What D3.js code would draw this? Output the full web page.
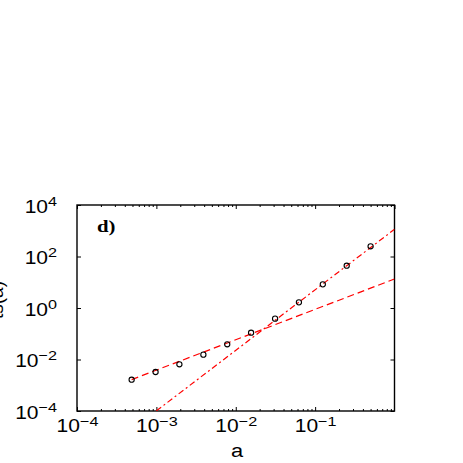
<!DOCTYPE html>
<html>
<head>
<meta charset="utf-8">
<script src="https://cdn.jsdelivr.net/npm/d3@7"></script>
<style>
  body { margin: 0; background: #fff; }
  text { font-family: "Liberation Sans", Arial, sans-serif; fill: #000; }
</style>
</head>
<body>
<div id="chart"></div>
<script>
// measured points (a = 2^-11 ... 2^-1)
var aValues = [0.000488, 0.000977, 0.00195, 0.00391, 0.00781, 0.0156, 0.0313, 0.0625, 0.125, 0.25, 0.5];
var tValues = [0.00164, 0.00327, 0.0065, 0.0154, 0.039, 0.11, 0.385, 1.66, 8.3, 44, 249];

// power-law fits: [prefactor, exponent, xStart, xEnd]
var fitDashed = [13.4, 1.18, 0.000488, 1];
var fitDashDot = [1138, 2.35, 0.001, 1];

var xTickExps = [-4, -3, -2, -1];
var yTickExps = [-4, -2, 0, 2, 4];

var W = 463, H = 463;
var margin = {left: 77, right: 68.5, top: 205, bottom: 52};
var pw = W - margin.left - margin.right,
    ph = H - margin.top - margin.bottom;

var svg = d3.select("#chart").append("svg")
  .attr("width", W).attr("height", H);

var x = d3.scaleLog().domain([1e-4, 1]).range([0, pw]);
var y = d3.scaleLog().domain([1e-4, 1e4]).range([ph, 0]);

var g = svg.append("g").attr("transform", "translate(" + margin.left + "," + margin.top + ")");

var clip = svg.append("clipPath").attr("id", "plotclip");
clip.append("rect").attr("width", pw).attr("height", ph);

// minor tick values for x
var xMinor = [];
xTickExps.forEach(function(e) {
  for (var k = 2; k <= 9; k++) { xMinor.push(k * Math.pow(10, e)); }
});
var xMajor = xTickExps.map(function(e) { return Math.pow(10, e); }).concat([1]);
var yMajor = yTickExps.map(function(e) { return Math.pow(10, e); });

function supLabel(sel, exps) {
  sel.each(function(d, i) {
    var t = d3.select(this);
    t.text(null);
    t.append("tspan").text("10");
    t.append("tspan").attr("dy", "-0.5em").style("font-size", "13.5px")
      .text(String(exps[i]).replace("-", "\u2212"));
  });
}

var sx = 1.2;

// bottom axis
var gx = g.append("g").attr("transform", "translate(0," + ph + ")")
  .call(d3.axisBottom(x).tickValues(xMajor.slice(0, 4)).tickSizeInner(-4).tickSizeOuter(0).tickPadding(9).tickFormat(function() { return ""; }));
gx.selectAll(".tick text").style("font-size", "17.5px").attr("transform", "scale(" + sx + ",1)");
supLabel(gx.selectAll(".tick text"), xTickExps);
g.append("g").attr("transform", "translate(0," + ph + ")")
  .call(d3.axisBottom(x).tickValues(xMinor).tickSizeInner(-2).tickSizeOuter(0).tickFormat(function() { return ""; }));

// top axis
g.append("g")
  .call(d3.axisTop(x).tickValues(xMajor).tickSizeInner(-4).tickSizeOuter(0).tickFormat(function() { return ""; }));
g.append("g")
  .call(d3.axisTop(x).tickValues(xMinor).tickSizeInner(-2).tickSizeOuter(0).tickFormat(function() { return ""; }));

// left axis
var gy = g.append("g")
  .call(d3.axisLeft(y).tickValues(yMajor).tickSizeInner(-4).tickSizeOuter(0).tickPadding(20 / sx).tickFormat(function() { return ""; }));
gy.selectAll(".tick text").style("font-size", "17.5px").attr("dy", "0.4em").attr("transform", "scale(" + sx + ",1)");
supLabel(gy.selectAll(".tick text"), yTickExps);

// right axis
g.append("g").attr("transform", "translate(" + pw + ",0)")
  .call(d3.axisRight(y).tickValues(yMajor).tickSizeInner(-4).tickSizeOuter(0).tickFormat(function() { return ""; }));

g.selectAll(".domain").remove();
g.selectAll(".tick line").attr("stroke", "#000").attr("stroke-width", 1);

// frame
g.append("rect").attr("width", pw).attr("height", ph)
  .attr("fill", "none").attr("stroke", "#000").attr("stroke-width", 1.4);

// fit lines
function fitLine(f) {
  var xs = [f[2], f[3]];
  return xs.map(function(v) { return [v, f[0] * Math.pow(v, f[1])]; });
}
var line = d3.line().x(function(d) { return x(d[0]); }).y(function(d) { return y(d[1]); });

var lines = g.append("g").attr("clip-path", "url(#plotclip)");
lines.append("path").attr("d", line(fitLine(fitDashed)))
  .attr("fill", "none").attr("stroke", "#ff0000").attr("stroke-width", 1.2)
  .attr("stroke-dasharray", "7,4");
lines.append("path").attr("d", line(fitLine(fitDashDot)))
  .attr("fill", "none").attr("stroke", "#ff0000").attr("stroke-width", 1.2)
  .attr("stroke-dasharray", "6,3,2,3");

// points
g.selectAll("circle.pt").data(aValues).enter().append("circle")
  .attr("class", "pt")
  .attr("cx", function(d) { return x(d); })
  .attr("cy", function(d, i) { return y(tValues[i]); })
  .attr("r", 2.6)
  .attr("fill", "none").attr("stroke", "#000").attr("stroke-width", 1.1);

// panel tag
g.append("text").attr("transform", "translate(20,27) scale(1.3,1)")
  .style("font-family", "'Liberation Serif', 'Times New Roman', serif")
  .style("font-weight", "bold").style("font-size", "16px")
  .text("d)");

// axis titles
svg.append("text").attr("transform", "translate(237,457) scale(1.15,1)")
  .attr("text-anchor", "middle").style("font-size", "19px").text("a");
svg.append("text").attr("transform", "translate(3,300) rotate(-90)")
  .attr("text-anchor", "middle").style("font-size", "19px").text("ts(a)");
</script>
</body>
</html>
